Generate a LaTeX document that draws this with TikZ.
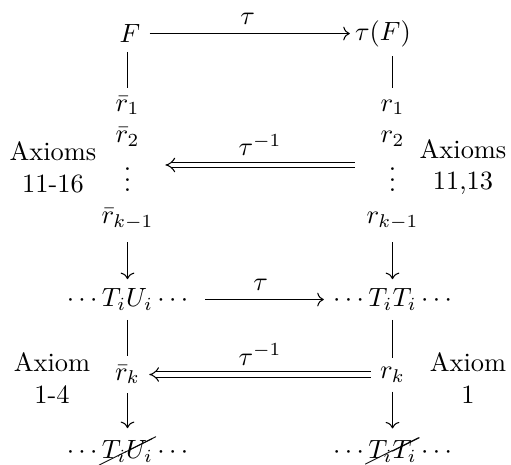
\documentclass[tikz,border=0pt]{standalone}
\usepackage{cancel}
\usetikzlibrary{arrows.meta}
\begin{document}
\begin{tikzpicture}[x=0.3788pt,y=-0.3788pt,
  lbl/.style={align=center},
  dbl/.style={double equal sign distance,-Implies},
  arr/.style={->}]
\useasboundingbox (0,0) rectangle (511,464);
\arraycolsep=1pt
% nodes
\node (F)  at (130,33.5) {$F$};
\node (tF) at (383,33.5) {$\tau(F)$};
\node (lg) at (127.5,161) {$\begin{array}{c}\bar r_1\\ \bar r_2\\ \vdots\\ \bar r_{k-1}\end{array}$};
\node (rg) at (392.5,161) {$\begin{array}{c}r_1\\ r_2\\ \vdots\\ r_{k-1}\end{array}$};
\node (TU) at (127.5,299.5) {$\cdots T_iU_i\cdots$};
\node (TT) at (392.5,299.5) {$\cdots T_iT_i\cdots$};
\node (rbk) at (127.5,374.5) {$\bar r_k$};
\node (rk)  at (392.5,374.5) {$r_k$};
\node (BU) at (127.5,450) {$\cdots \cancel{T_iU_i}\cdots$};
\node (BT) at (392.5,450) {$\cdots \cancel{T_iT_i}\cdots$};
\node[lbl] (ax1) at (53,167) {Axioms\\11-16};
\node[lbl] (ax2) at (463,167) {Axioms\\11,13};
\node[lbl] (ax3) at (52,378) {Axiom\\1-4};
\node[lbl] (ax4) at (468,378) {Axiom\\1};
% connectors
\draw[arr,shorten >=-1.5pt] (F) -- (tF) node[midway,above] {$\tau$};
\draw[shorten >=-3.2pt] (F.south -| lg) -- (lg);
\draw[shorten >=-3.2pt] (tF.south -| rg) -- (rg);
\draw[dbl] ([yshift=-1.5pt]rg.west) -- ([yshift=-1.5pt]lg.east) node[midway,above] {$\tau^{-1}$};
\draw[arr] (lg) -- (TU);
\draw[arr] (rg) -- (TT);
\draw[arr,shorten <=3pt] (TU) -- (TT) node[midway,above] {$\tau$};
\draw (TU) -- (rbk);
\draw (TT) -- (rk);
\draw[dbl] (rk) -- (rbk) node[midway,above] {$\tau^{-1}$};
\draw[arr] (rbk) -- (BU);
\draw[arr] (rk) -- (BT);
\end{tikzpicture}
\end{document}
